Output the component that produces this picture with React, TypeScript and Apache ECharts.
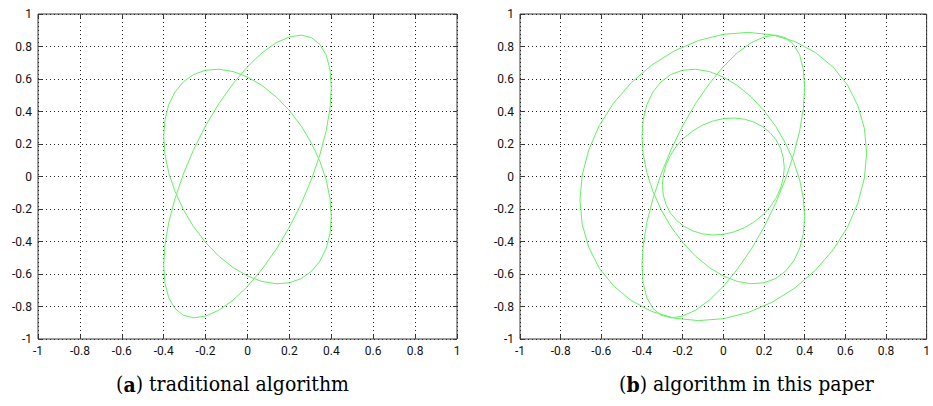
import React, { useEffect, useRef } from "react";
import * as echarts from "echarts";

const axisMin = -1;
const axisMax = 1;
const tickStep = 0.2;

const captionA = ["(", "a", ") traditional algorithm"];
const captionB = ["(", "b", ") algorithm in this paper"];

const curveA: number[][] = [
  [0.4, 0.547], [0.394, 0.657], [0.376, 0.746], [0.346, 0.812], [0.306, 0.854], [0.257, 0.87],
  [0.2, 0.859], [0.137, 0.823], [0.069, 0.761], [0, 0.676], [-0.069, 0.571], [-0.137, 0.448],
  [-0.2, 0.312], [-0.257, 0.166], [-0.306, 0.015], [-0.346, -0.136], [-0.376, -0.283], [-0.394, -0.422],
  [-0.4, -0.547], [-0.394, -0.657], [-0.376, -0.746], [-0.346, -0.812], [-0.306, -0.854], [-0.257, -0.87],
  [-0.2, -0.859], [-0.137, -0.823], [-0.069, -0.761], [0, -0.676], [0.069, -0.571], [0.137, -0.448],
  [0.2, -0.312], [0.257, -0.166], [0.306, -0.015], [0.346, 0.136], [0.376, 0.283], [0.394, 0.422],
];

const curveB: number[][] = [
  [0.4, -0.247], [0.394, -0.137], [0.376, -0.023], [0.346, 0.092], [0.306, 0.204], [0.257, 0.31],
  [0.2, 0.406], [0.137, 0.49], [0.069, 0.56], [0, 0.612], [-0.069, 0.646], [-0.137, 0.66],
  [-0.2, 0.654], [-0.257, 0.628], [-0.306, 0.583], [-0.346, 0.52], [-0.376, 0.442], [-0.394, 0.35],
  [-0.4, 0.247], [-0.394, 0.137], [-0.376, 0.023], [-0.346, -0.092], [-0.306, -0.204], [-0.257, -0.31],
  [-0.2, -0.406], [-0.137, -0.49], [-0.069, -0.56], [0, -0.612], [0.069, -0.646], [0.137, -0.66],
  [0.2, -0.654], [0.257, -0.628], [0.306, -0.583], [0.346, -0.52], [0.376, -0.442], [0.394, -0.35],
];

const curveC: number[][] = [
  [0.705, 0.145], [0.694, 0.295], [0.662, 0.435], [0.611, 0.563], [0.54, 0.673], [0.453, 0.763],
  [0.353, 0.83], [0.241, 0.872], [0.122, 0.887], [0, 0.875], [-0.122, 0.837], [-0.241, 0.773],
  [-0.353, 0.685], [-0.453, 0.577], [-0.54, 0.451], [-0.611, 0.312], [-0.662, 0.163], [-0.694, 0.009],
  [-0.705, -0.145], [-0.694, -0.295], [-0.662, -0.435], [-0.611, -0.563], [-0.54, -0.673], [-0.453, -0.763],
  [-0.353, -0.83], [-0.241, -0.872], [-0.122, -0.887], [0, -0.875], [0.122, -0.837], [0.241, -0.773],
  [0.353, -0.685], [0.453, -0.577], [0.54, -0.451], [0.611, -0.312], [0.662, -0.163], [0.694, -0.009],
];

const curveD: number[][] = [
  [0.3, 0.054], [0.295, 0.115], [0.282, 0.172], [0.26, 0.225], [0.23, 0.27], [0.193, 0.307],
  [0.15, 0.335], [0.103, 0.353], [0.052, 0.36], [0, 0.356], [-0.052, 0.341], [-0.103, 0.316],
  [-0.15, 0.281], [-0.193, 0.238], [-0.23, 0.188], [-0.26, 0.131], [-0.282, 0.071], [-0.295, 0.009],
  [-0.3, -0.054], [-0.295, -0.115], [-0.282, -0.172], [-0.26, -0.225], [-0.23, -0.27], [-0.193, -0.307],
  [-0.15, -0.335], [-0.103, -0.353], [-0.052, -0.36], [0, -0.356], [0.052, -0.341], [0.103, -0.316],
  [0.15, -0.281], [0.193, -0.238], [0.23, -0.188], [0.26, -0.131], [0.282, -0.071], [0.295, -0.009],
];

const panelACurves = [curveA, curveB];
const panelBCurves = [curveA, curveB, curveC, curveD];

const CURVE_COLOR = "#66ee66";
const FRAME_COLOR = "#3a3a3a";
const LABEL_FONT = "Roboto";
const CAPTION_FONT = "DejaVu Serif Condensed";
const CAPTION_SIZE = 21;

const fmt = (v: number) => String(Math.round(v * 10) / 10);

function closeLoop(pts: number[][]) {
  return [...pts, pts[0]];
}

function mainAxis(gridIndex: number, position: string) {
  return {
    type: "value",
    gridIndex,
    position,
    min: axisMin,
    max: axisMax,
    interval: tickStep,
    axisLine: { show: false, onZero: false },
    axisTick: { show: true, inside: true, length: 4, lineStyle: { color: FRAME_COLOR, width: 1 } },
    axisLabel: {
      show: true,
      margin: 6,
      color: "#111",
      fontSize: 12,
      fontFamily: LABEL_FONT,
      formatter: fmt,
      showMinLabel: true,
      showMaxLabel: true,
    },
    splitLine: { show: true, lineStyle: { color: "#222", type: [1, 3], width: 1 } },
  };
}

function tickAxis(gridIndex: number, position: string) {
  return {
    type: "value",
    gridIndex,
    position,
    min: axisMin,
    max: axisMax,
    interval: tickStep,
    axisLine: { show: false, onZero: false },
    axisTick: { show: true, inside: true, length: 4, lineStyle: { color: FRAME_COLOR, width: 1 } },
    axisLabel: { show: false },
    splitLine: { show: false },
  };
}

function caption(parts: string[], x: number, y: number) {
  return {
    type: "text",
    x,
    y,
    silent: true,
    style: {
      text: `{n|${parts[0]}}{b|${parts[1]}}{n|${parts[2]}}`,
      align: "center",
      verticalAlign: "middle",
      fill: "#000",
      fontFamily: CAPTION_FONT,
      fontSize: CAPTION_SIZE,
      rich: {
        n: { fontFamily: CAPTION_FONT, fontSize: CAPTION_SIZE, fill: "#000" },
        b: { fontFamily: CAPTION_FONT, fontSize: CAPTION_SIZE, fontWeight: "bold", fill: "#000" },
      },
    },
  };
}

export default function App() {
  const ref = useRef<HTMLDivElement>(null);

  useEffect(() => {
    if (!ref.current) return;
    const chart = echarts.init(ref.current, null, { renderer: "svg" });

    const series: any[] = [];
    panelACurves.forEach((c, i) => {
      series.push({
        type: "line", name: `a${i}`, xAxisIndex: 0, yAxisIndex: 0,
        data: closeLoop(c), smooth: false, symbol: "none", showSymbol: false, silent: true,
        lineStyle: { color: CURVE_COLOR, width: 1 },
      });
    });
    panelBCurves.forEach((c, i) => {
      series.push({
        type: "line", name: `b${i}`, xAxisIndex: 2, yAxisIndex: 2,
        data: closeLoop(c), smooth: false, symbol: "none", showSymbol: false, silent: true,
        lineStyle: { color: CURVE_COLOR, width: 1 },
      });
    });

    chart.setOption({
      animation: false,
      backgroundColor: "#ffffff",
      grid: [
        { left: 38, top: 14, width: 419, height: 325, show: true, borderColor: FRAME_COLOR, borderWidth: 1, backgroundColor: "#fff" },
        { left: 520, top: 14, width: 417, height: 325, show: true, borderColor: FRAME_COLOR, borderWidth: 1, backgroundColor: "#fff" },
      ],
      xAxis: [mainAxis(0, "bottom"), tickAxis(0, "top"), mainAxis(1, "bottom"), tickAxis(1, "top")],
      yAxis: [mainAxis(0, "left"), tickAxis(0, "right"), mainAxis(1, "left"), tickAxis(1, "right")],
      series,
      graphic: [caption(captionA, 232.5, 384), caption(captionB, 746.5, 384)],
    });

    return () => chart.dispose();
  }, []);

  return (
    <div
      ref={ref}
      style={{ position: "fixed", left: 0, top: 0, width: 933, height: 406, background: "#fff" }}
    />
  );
}
